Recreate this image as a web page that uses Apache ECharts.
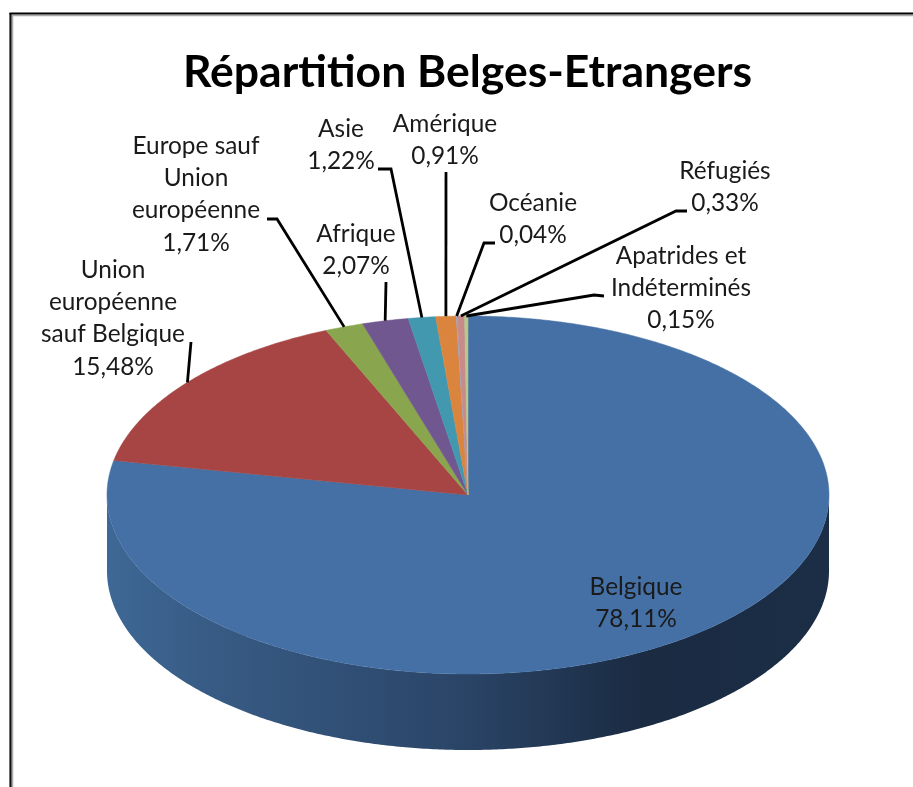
<!DOCTYPE html>
<html>
<head>
<meta charset="utf-8">
<style>
html, body { margin: 0; padding: 0; background: #fff; }
#chart { width: 913px; height: 787px; }
</style>
<script src="https://cdn.jsdelivr.net/npm/echarts@6/dist/echarts.min.js"></script>
</head>
<body>
<div id="chart"></div>
<script>
// clockwise from the top of the pie
const categories = ['Belgique', 'Union européenne sauf Belgique', 'Europe sauf Union européenne', 'Afrique', 'Asie', 'Amérique', 'Océanie', 'Réfugiés', 'Apatrides et Indéterminés'];
const values = [78.11, 15.48, 1.71, 2.07, 1.22, 0.91, 0.04, 0.33, 0.15];
const colors = ['#4570a5', '#a64543', '#89a54e', '#71578f', '#4198af', '#db843d', '#93a9cf', '#c98b8a', '#b5c98a'];

// drawing of the tilted pie
const cx = 468, cy = 495, rx = 361, ry = 179, depth = 76;
const total = values.reduce((a, b) => a + b, 0);

// label place (centre x, first line y), wrapped lines and leader elbow per category
const labelLayout = [
    {x: 636, y: 587, lines: ['Belgique']},
    {x: 113, y: 270, lines: ['Union', 'européenne', 'sauf Belgique'], leader: [[191, 342]]},
    {x: 196, y: 146, lines: ['Europe sauf', 'Union', 'européenne'], leader: [[267, 219], [277, 219]]},
    {x: 356, y: 234, lines: ['Afrique'], leader: [[386, 282]]},
    {x: 341, y: 129, lines: ['Asie'], leader: [[378, 169], [391, 169]]},
    {x: 445, y: 124, lines: ['Amérique'], leader: [[446, 172]]},
    {x: 533, y: 203, lines: ['Océanie'], leader: [[495, 243], [484, 243]]},
    {x: 725, y: 171, lines: ['Réfugiés'], leader: [[687, 211], [676, 211]]},
    {x: 681, y: 256, lines: ['Apatrides et', 'Indéterminés'], leader: [[604, 296], [594, 295]]}
];
const lineHeight = 32.3;

function ellipsePoint(frac, dy) {
    const a = frac * Math.PI * 2;
    return [cx + rx * Math.sin(a), cy - ry * Math.cos(a) + (dy || 0)];
}

function arcPoints(from, to, dy) {
    const pts = [];
    const steps = Math.max(2, Math.ceil((to - from) * 720));
    for (let i = 0; i <= steps; i++) {
        pts.push(ellipsePoint(from + (to - from) * i / steps, dy));
    }
    return pts;
}

function renderSlice(params, api) {
    const idx = params.dataIndex;
    const before = values.slice(0, idx).reduce((a, b) => a + b, 0);
    const from = before / total;
    const to = (before + api.value(0)) / total;
    const children = [];

    // side wall, only the front half of the pie shows it
    const wallFrom = Math.max(from, 0.25);
    const wallTo = Math.min(to, 0.75);
    if (wallTo > wallFrom) {
        const top = arcPoints(wallFrom, wallTo, 0);
        const bottom = arcPoints(wallFrom, wallTo, depth).reverse();
        children.push({
            type: 'polygon',
            shape: {points: top.concat(bottom)},
            style: {
                fill: new echarts.graphic.LinearGradient(cx - rx, 0, cx + rx, 0, [
                    {offset: 0, color: '#3e6895'},
                    {offset: 0.13, color: '#385c86'},
                    {offset: 0.5, color: '#2a4466'},
                    {offset: 0.74, color: '#1a2b42'},
                    {offset: 1, color: '#1b2e46'}
                ], true)
            }
        });
    }

    // top face
    children.push({
        type: 'polygon',
        shape: {points: [[cx, cy]].concat(arcPoints(from, to, 0))},
        style: {fill: colors[idx], stroke: colors[idx], lineWidth: 0.5}
    });

    // leader line ends on the rim at the middle of the slice
    const layout = labelLayout[idx];
    if (layout.leader) {
        children.push({
            type: 'polyline',
            shape: {points: layout.leader.concat([ellipsePoint((from + to) / 2)])},
            style: {fill: 'none', stroke: '#000', lineWidth: 2.8},
            z2: 20
        });
    }

    // label text
    const text = layout.lines.concat([api.value(0).toFixed(2).replace('.', ',') + '%']);
    text.forEach((line, i) => {
        children.push({
            type: 'text',
            x: layout.x,
            y: layout.y + i * lineHeight,
            style: {
                text: line,
                fill: '#1a1a1a',
                font: '24.4px Lato',
                align: 'center',
                verticalAlign: 'middle'
            },
            z2: 30
        });
    });

    return {type: 'group', children: children};
}

const chart = echarts.init(document.getElementById('chart'), null, {renderer: 'canvas'});
chart.setOption({
    animation: false,
    backgroundColor: '#fff',
    title: {
        text: 'Répartition Belges-Etrangers',
        left: 462.5,
        top: 45,
        textAlign: 'center',
        textStyle: {fontFamily: 'Lato', fontWeight: 'bold', fontSize: 44.5, color: '#000'}
    },
    graphic: [
        {type: 'line', shape: {x1: 12.5, y1: 15, x2: 12.5, y2: 787}, style: {stroke: '#aaa', lineWidth: 1.5}},
        {type: 'line', shape: {x1: 12, y1: 15.5, x2: 913, y2: 15.5}, style: {stroke: '#aaa', lineWidth: 1.5}},
        {type: 'line', shape: {x1: 10.5, y1: 13, x2: 10.5, y2: 787}, style: {stroke: '#111', lineWidth: 2.2}},
        {type: 'line', shape: {x1: 9.5, y1: 13.5, x2: 913, y2: 13.5}, style: {stroke: '#000', lineWidth: 2.2}}
    ],
    series: [{
        type: 'custom',
        coordinateSystem: 'none',
        silent: true,
        clip: false,
        data: values.map((v, i) => ({name: categories[i], value: [v]})),
        renderItem: renderSlice
    }]
});
</script>
</body>
</html>
